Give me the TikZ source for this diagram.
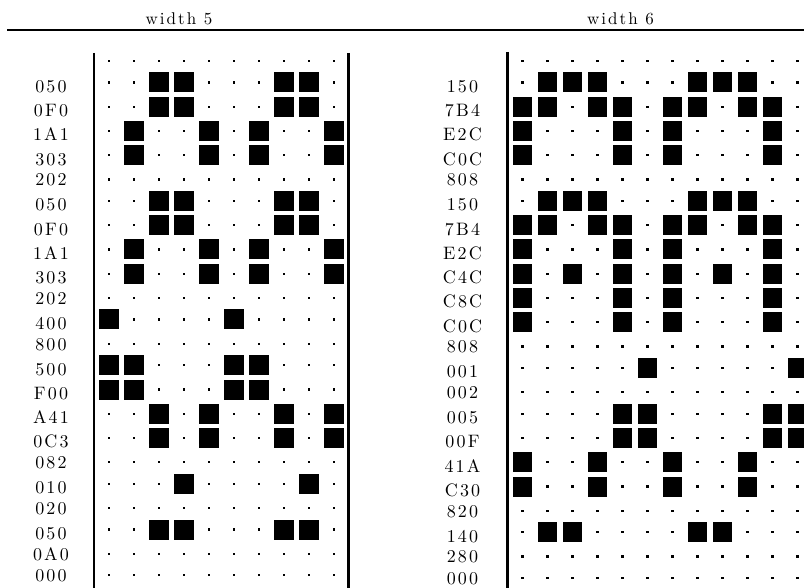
\documentclass[tikz,border=0pt]{standalone}
\usepackage{fontspec}
\usepackage{tikz}
\newfontfamily\gridfont{lmroman10-regular.otf}[LetterSpace=12]

% #1 prefix, #2 x of column 0, #3 period, #4 last column, #5 square width, #6 label x, #7 rows: label/{set columns}
\newcommand{\bitpanel}[7]{%
  \gdef\rowy{61}%
  \foreach \lab/\cols [count=\rowno] in {#7} {
    \ifx\cols\empty \def\rowstep{21.5}\def\lbloff{6.3}\else \def\rowstep{24.25}\def\lbloff{9.8}\fi
    \ifx\lab\empty\else \node[rowlbl] (#1-\rowno) at (#6,\rowy+\lbloff) {\lab};\fi
    \foreach \col in {0,...,#4} \fill (#2+25*\col-1.2,\rowy-1.2) rectangle ++(2.4,2.4);
    \ifx\cols\empty\else
      \foreach \sq in \cols \foreach \copyno in {0,1}
        \fill (#2+25*\sq+25*#3*\copyno-#5/2,\rowy-10) rectangle ++(#5,20);
    \fi
    \pgfmathsetmacro\nexty{\rowy+\rowstep}\xdef\rowy{\nexty}
  }%
}

\begin{document}
\begin{tikzpicture}[
  x=1pt, y=-1pt,
  rowlbl/.style={anchor=base, inner sep=0pt, font=\gridfont\fontsize{18}{20}\selectfont},
  heading/.style={anchor=base, inner sep=0pt, font=\gridfont\fontsize{17}{20}\selectfont},
]
\useasboundingbox (0,0) rectangle (804,588);
\clip (0,0) rectangle (804,588);
% headings
\node[heading] (w5) at (179,25) {width 5};
\node[heading] (w6) at (620.5,25) {width 6};
\draw[line width=2pt] (7,30.3) -- (804,30.3);
% frame lines
\draw[line width=2.2pt] (94,53) -- (94,588);
\draw[line width=3pt] (348,53) -- (348,588);
\draw[line width=2.4pt] (507.5,52) -- (507.5,588);
% width 5
\bitpanel{L}{109}{5}{9}{20}{51}{{}/{}, 050/{2,3}, 0F0/{2,3}, 1A1/{1,4}, 303/{1,4}, 202/{},
  050/{2,3}, 0F0/{2,3}, 1A1/{1,4}, 303/{1,4}, 202/{}, 400/{0}, 800/{}, 500/{0,1}, F00/{0,1},
  A41/{2,4}, 0C3/{2,4}, 082/{}, 010/{3}, 020/{}, 050/{2,3}, 0A0/{}, 000/{}}
% width 6
\bitpanel{R}{522.5}{6}{11}{18.5}{462.5}{{}/{}, 150/{1,2,3}, 7B4/{0,1,3,4}, E2C/{0,4}, C0C/{0,4}, 808/{},
  150/{1,2,3}, 7B4/{0,1,3,4}, E2C/{0,4}, C4C/{0,2,4}, C8C/{0,4}, C0C/{0,4}, 808/{}, 001/{5}, 002/{},
  005/{4,5}, 00F/{4,5}, 41A/{0,3}, C30/{0,3}, 820/{}, 140/{1,2}, 280/{}, 000/{}}
\end{tikzpicture}
\end{document}
